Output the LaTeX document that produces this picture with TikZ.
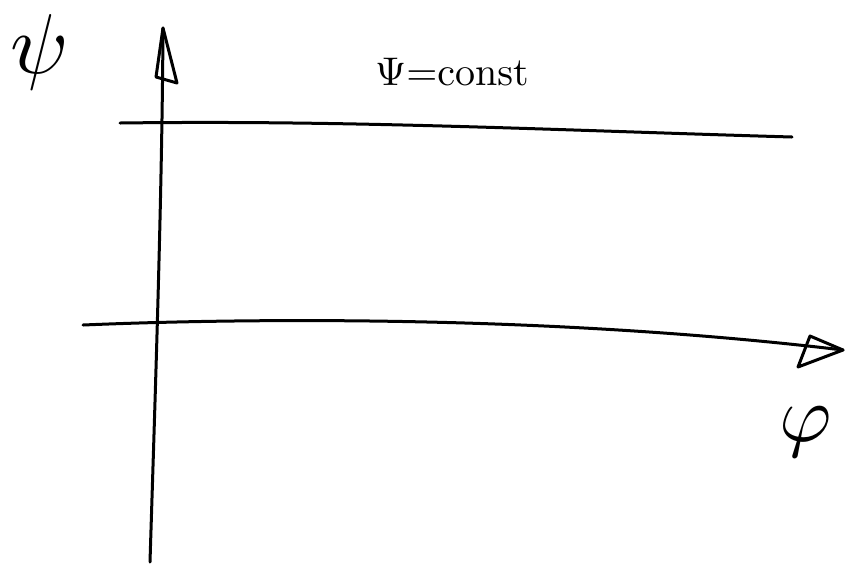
\documentclass[tikz,border=0pt]{standalone}
\begin{document}
\begin{tikzpicture}[x=1pt,y=-1pt,
  pen/.style={line width=3pt,line cap=round,line join=round,black},
  lbl/.style={inner sep=0pt}]
\useasboundingbox (0,0) rectangle (845,566);
\fill[white] (0,0) rectangle (845,566);
% coordinates
\coordinate (vb) at (150,562);
\coordinate (vt) at (163,28);
\coordinate (hl) at (83,325);
\coordinate (hr) at (843,350);
\coordinate (ul) at (120,123);
\coordinate (ur) at (792,137);
% vertical axis
\draw[pen] (vb) .. controls (155,400) and (162,200) .. (vt);
\draw[pen] (vt) -- (156,77) -- (177,83) -- cycle;
% horizontal axis
\draw[pen] (hl) .. controls (250,318) and (550,315) .. (hr);
\draw[pen] (hr) -- (810,336) -- (798,367) -- cycle;
% upper line psi = const
\draw[pen] (ul) .. controls (350,120) and (550,130) .. (ur);
% labels
\node[lbl] (psi) at (40,52) {\scalebox{8.5}{$\psi$}};
\node[lbl] (phi) at (806,432) {\scalebox{8}{$\varphi$}};
\node[lbl] (eq) at (452,72) {\scalebox{4}{$\Psi{=}\mathrm{const}$}};
\end{tikzpicture}
\end{document}
